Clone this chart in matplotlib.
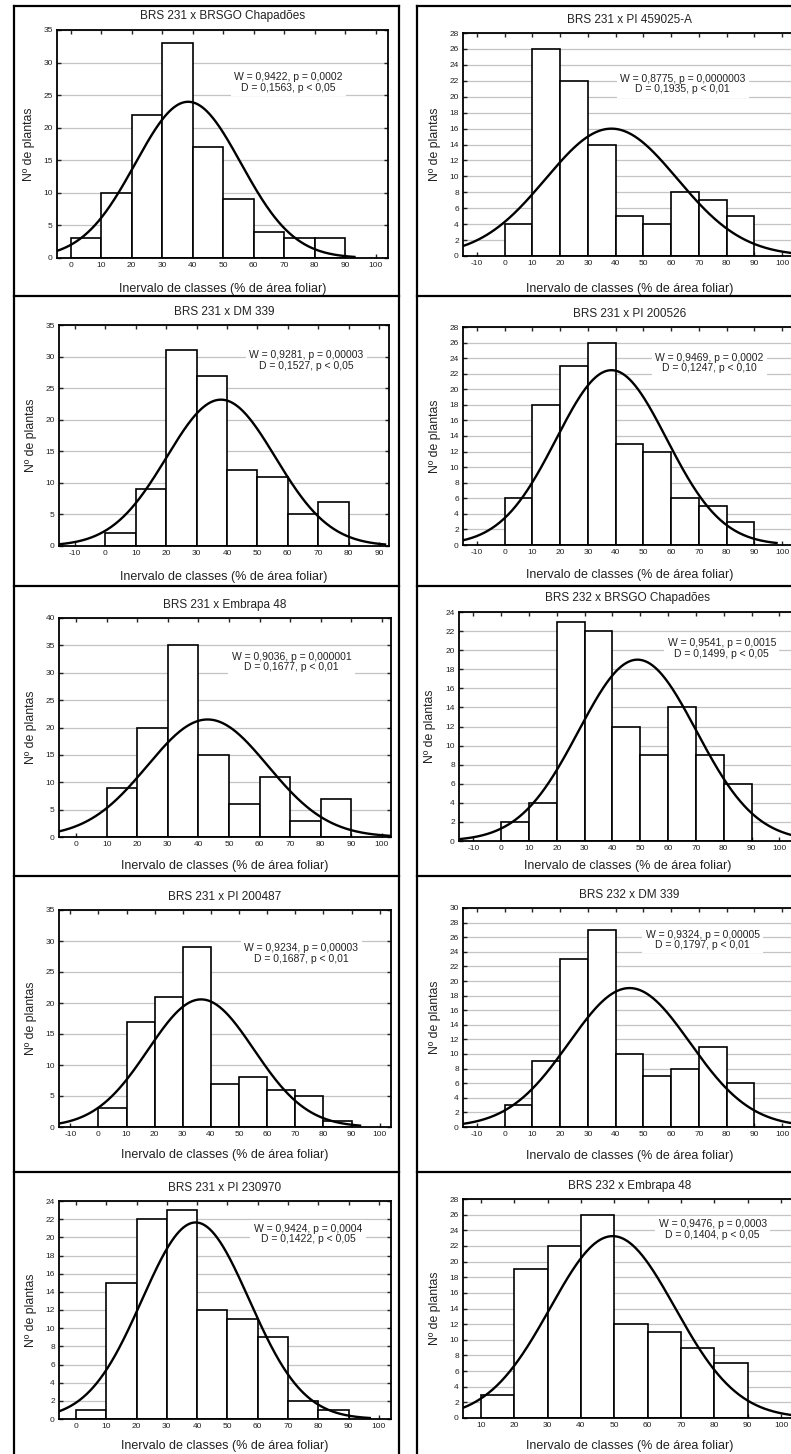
import numpy as np
import matplotlib.pyplot as plt
from matplotlib.lines import Line2D

plt.rcParams['font.family'] = ['Liberation Sans', 'DejaVu Sans']
plt.rcParams['axes.unicode_minus'] = False

W, H = 791, 1454  # output size in pixels

# ----- data -----
titles = [
    "BRS 231 x BRSGO Chapadões", "BRS 231 x PI 459025-A",
    "BRS 231 x DM 339", "BRS 231 x PI 200526",
    "BRS 231 x Embrapa 48", "BRS 232 x BRSGO Chapadões",
    "BRS 231 x PI 200487", "BRS 232 x DM 339",
    "BRS 231 x PI 230970", "BRS 232 x Embrapa 48",
]
stats = [
    "W = 0,9422, p = 0,0002\nD = 0,1563, p < 0,05",
    "W = 0,8775, p = 0,0000003\nD = 0,1935, p < 0,01",
    "W = 0,9281, p = 0,00003\nD = 0,1527, p < 0,05",
    "W = 0,9469, p = 0,0002\nD = 0,1247, p < 0,10",
    "W = 0,9036, p = 0,000001\nD = 0,1677, p < 0,01",
    "W = 0,9541, p = 0,0015\nD = 0,1499, p < 0,05",
    "W = 0,9234, p = 0,00003\nD = 0,1687, p < 0,01",
    "W = 0,9324, p = 0,00005\nD = 0,1797, p < 0,01",
    "W = 0,9424, p = 0,0004\nD = 0,1422, p < 0,05",
    "W = 0,9476, p = 0,0003\nD = 0,1404, p < 0,05",
]

# left edges of 10-unit classes and counts per class
bin_start = [0, 0, 0, 0, 10, 0, 0, 0, 0, 10]
counts = [
    [3, 10, 22, 33, 17, 9, 4, 3, 3],
    [4, 26, 22, 14, 5, 4, 8, 7, 5],
    [2, 9, 31, 27, 12, 11, 5, 7],
    [6, 18, 23, 26, 13, 12, 6, 5, 3],
    [9, 20, 35, 15, 6, 11, 3, 7],
    [2, 4, 23, 22, 12, 9, 14, 9, 6],
    [3, 17, 21, 29, 7, 8, 6, 5, 1],
    [3, 9, 23, 27, 10, 7, 8, 11, 6],
    [1, 15, 22, 23, 12, 11, 9, 2, 1],
    [3, 19, 22, 26, 12, 11, 9, 7],
]
bin_width = 10

# fitted normal curve (mean, sd) estimated from the plotted curves
fit_mean = [38.5, 38.5, 38, 38.5, 43, 49, 36.5, 45, 39.5, 49.5]
fit_sd = [17.3, 23.7, 17.9, 19.9, 19.7, 21.2, 18.8, 21.8, 17.7, 18.7]
curve_end = [93, 106, 92, 98, 103, 106, 93, 106, 97, 106]

xlims = [(-4.5, 104), (-15, 105), (-15.3, 93.3), (-15, 105), (-5.6, 103),
         (-15.2, 106), (-14, 104), (-15, 105), (-5.6, 104), (4.6, 104.5)]
xtick_lo = [0, -10, -10, -10, 0, -10, -10, -10, 0, 10]
xtick_hi = [100, 100, 90, 100, 100, 100, 100, 100, 100, 100]
ymax = [35, 28, 35, 28, 40, 24, 35, 30, 24, 28]
ystep = [5, 2, 5, 2, 5, 2, 5, 2, 2, 2]

# ----- layout (pixels: x0, x1, top, bottom) -----
boxes = [
    (57, 388, 30, 258), (463, 796, 33, 256),
    (59, 389, 325, 546), (463, 796, 327, 545),
    (59, 391, 618, 837), (459, 796, 612, 841),
    (59, 391, 910, 1127), (463, 796, 908, 1127),
    (59, 391, 1201, 1419), (463, 796, 1199, 1418),
]
text_pos = [(0.70, 0.77), (0.66, 0.77), (0.75, 0.84), (0.74, 0.835), (0.70, 0.80),
            (0.78, 0.84), (0.73, 0.80), (0.72, 0.855), (0.75, 0.85), (0.75, 0.86)]
xlabel_gap = [31, 33, 31, 30, 29, 25, 28, 29, 27, 28]

fig = plt.figure(figsize=(W / 100, H / 100), dpi=100)


def fx(px):
    return px / W


def fy(py):
    return 1 - py / H


# table frame around the panels
row_lines = [6, 296, 586, 876, 1172]
for y in row_lines:
    fig.add_artist(Line2D([fx(14), fx(399)], [fy(y), fy(y)], color="k", lw=1.6))
    fig.add_artist(Line2D([fx(417), fx(800)], [fy(y), fy(y)], color="k", lw=1.6))
for x in (14, 399, 417):
    fig.add_artist(Line2D([fx(x), fx(x)], [fy(6), fy(H + 5)], color="k", lw=1.6))

for i in range(10):
    x0, x1, yt, yb = boxes[i]
    ax = fig.add_axes([fx(x0), fy(yb), (x1 - x0) / W, (yb - yt) / H])

    c = np.array(counts[i])
    lefts = bin_start[i] + bin_width * np.arange(len(c))
    ax.bar(lefts, c, width=bin_width, align="edge", color="white",
           edgecolor="black", lw=1.2, zorder=2)

    n = c.sum()
    xs = np.linspace(xlims[i][0], curve_end[i], 400)
    ys = n * bin_width / (fit_sd[i] * np.sqrt(2 * np.pi)) * \
        np.exp(-0.5 * ((xs - fit_mean[i]) / fit_sd[i]) ** 2)
    ax.plot(xs, ys, color="black", lw=1.7, zorder=3)

    ax.set_xlim(*xlims[i])
    ax.set_ylim(0, ymax[i])
    ax.set_xticks(np.arange(xtick_lo[i], xtick_hi[i] + 1, 10))
    ax.set_yticks(np.arange(0, ymax[i] + 1, ystep[i]))
    ax.yaxis.grid(True, color="#c4c4c4", lw=0.9, zorder=0)
    ax.set_axisbelow(True)
    ax.tick_params(direction="in", length=3, width=1, labelsize=6,
                   top=True, right=True, pad=3, colors="#222222")
    for s in ax.spines.values():
        s.set_linewidth(1.3)

    ax.text(0.5, 1.06, titles[i], transform=ax.transAxes, ha="center",
            va="center", fontsize=8.5, color="#222222")
    ax.set_xlabel("Inervalo de classes (% de área foliar)", fontsize=9,
                  color="#222222", va="center")
    ax.xaxis.set_label_coords(0.5, -xlabel_gap[i] / (yb - yt))
    ax.set_ylabel("Nº de plantas", fontsize=8.8, color="#222222", va="center")
    ax.yaxis.set_label_coords(-0.085, 0.5)

    ax.text(*text_pos[i], stats[i], transform=ax.transAxes, ha="center",
            va="center", fontsize=7.5, color="#222222", linespacing=1.05,
            zorder=4, bbox=dict(facecolor="white", edgecolor="none", pad=2.5))

fig.savefig("out.png", dpi=100)
